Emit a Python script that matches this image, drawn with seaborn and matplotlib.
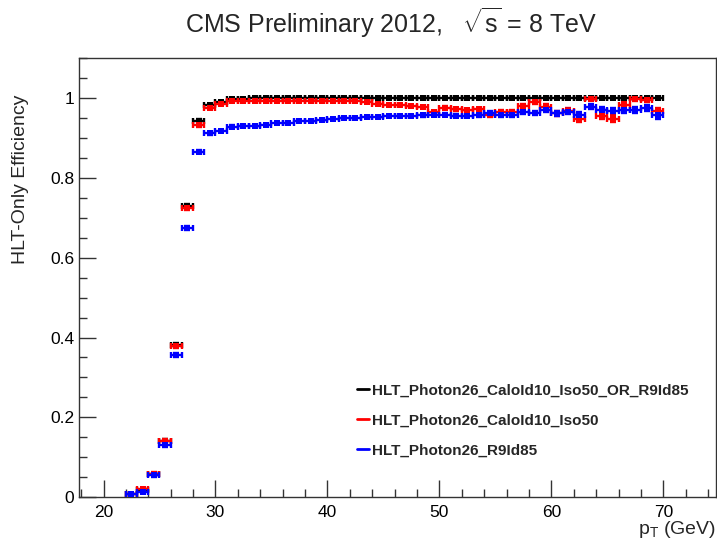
import numpy as np
import pandas as pd
import seaborn as sns
import matplotlib.pyplot as plt
from matplotlib.lines import Line2D
from matplotlib.ticker import MultipleLocator

# bin centres (1 GeV bins from 22 to 70 GeV)
pt = [22.5, 23.5, 24.5, 25.5, 26.5, 27.5, 28.5, 29.5, 30.5, 31.5,
      32.5, 33.5, 34.5, 35.5, 36.5, 37.5, 38.5, 39.5, 40.5, 41.5,
      42.5, 43.5, 44.5, 45.5, 46.5, 47.5, 48.5, 49.5, 50.5, 51.5,
      52.5, 53.5, 54.5, 55.5, 56.5, 57.5, 58.5, 59.5, 60.5, 61.5,
      62.5, 63.5, 64.5, 65.5, 66.5, 67.5, 68.5, 69.5]

eff_or = [0.008, 0.018, 0.058, 0.141, 0.382, 0.731, 0.944, 0.983, 0.990, 0.998,
          0.999, 1.000, 1.000, 1.000, 1.000, 1.000, 1.000, 1.000, 1.000, 1.000,
          1.000, 1.000, 1.000, 1.000, 1.000, 1.000, 1.000, 1.000, 1.000, 1.000,
          1.000, 1.000, 1.000, 1.000, 1.000, 1.000, 1.000, 1.000, 1.000, 1.000,
          1.000, 1.000, 1.000, 1.000, 1.000, 1.000, 1.000, 1.000]
err_or = [0.002, 0.002, 0.003, 0.004, 0.004, 0.004, 0.003, 0.002, 0.002, 0.001,
          0.001, 0.001, 0.001, 0.001, 0.001, 0.001, 0.001, 0.001, 0.001, 0.001,
          0.001, 0.001, 0.001, 0.001, 0.001, 0.001, 0.001, 0.001, 0.001, 0.001,
          0.001, 0.001, 0.001, 0.001, 0.001, 0.001, 0.001, 0.001, 0.001, 0.001,
          0.001, 0.001, 0.001, 0.001, 0.001, 0.001, 0.001, 0.001]

eff_iso = [0.007, 0.019, 0.058, 0.140, 0.379, 0.725, 0.933, 0.975, 0.986, 0.992,
           0.992, 0.992, 0.992, 0.992, 0.992, 0.992, 0.992, 0.992, 0.992, 0.992,
           0.992, 0.991, 0.985, 0.983, 0.983, 0.980, 0.978, 0.965, 0.976, 0.972,
           0.970, 0.972, 0.959, 0.966, 0.965, 0.980, 0.990, 0.979, 0.962, 0.969,
           0.947, 0.999, 0.955, 0.949, 0.984, 0.998, 0.996, 0.967]
err_iso = [0.002, 0.003, 0.004, 0.005, 0.005, 0.005, 0.004, 0.003, 0.003, 0.002,
           0.002, 0.002, 0.002, 0.002, 0.002, 0.002, 0.002, 0.002, 0.002, 0.002,
           0.002, 0.002, 0.003, 0.003, 0.003, 0.003, 0.003, 0.004, 0.004, 0.004,
           0.004, 0.004, 0.005, 0.005, 0.005, 0.005, 0.005, 0.006, 0.006, 0.006,
           0.007, 0.004, 0.007, 0.008, 0.007, 0.005, 0.005, 0.009]

eff_r9 = [0.008, 0.013, 0.055, 0.131, 0.357, 0.675, 0.866, 0.912, 0.918, 0.929,
          0.930, 0.930, 0.933, 0.939, 0.939, 0.943, 0.944, 0.945, 0.948, 0.951,
          0.951, 0.953, 0.953, 0.955, 0.955, 0.956, 0.957, 0.958, 0.959, 0.956,
          0.956, 0.957, 0.963, 0.958, 0.959, 0.966, 0.962, 0.971, 0.962, 0.966,
          0.958, 0.979, 0.971, 0.969, 0.970, 0.970, 0.975, 0.957]
err_r9 = [0.002, 0.003, 0.004, 0.005, 0.005, 0.005, 0.004, 0.003, 0.003, 0.003,
          0.002, 0.002, 0.002, 0.002, 0.002, 0.002, 0.002, 0.002, 0.002, 0.002,
          0.002, 0.002, 0.002, 0.003, 0.003, 0.003, 0.003, 0.003, 0.004, 0.004,
          0.004, 0.004, 0.004, 0.005, 0.005, 0.005, 0.005, 0.006, 0.006, 0.006,
          0.007, 0.006, 0.007, 0.007, 0.007, 0.007, 0.007, 0.008]

labels = ["HLT_Photon26_CaloId10_Iso50_OR_R9Id85",
          "HLT_Photon26_CaloId10_Iso50",
          "HLT_Photon26_R9Id85"]
colors = ["#000000", "#ff0000", "#0000ff"]

frames = []
for lab, eff, err in zip(labels, [eff_or, eff_iso, eff_r9], [err_or, err_iso, err_r9]):
    frames.append(pd.DataFrame({"pt": pt, "eff": eff, "err": err, "trigger": lab}))
df = pd.concat(frames, ignore_index=True)

sns.set_theme(style="ticks")
plt.rcParams['font.family'] = ['Liberation Sans', 'DejaVu Sans']
plt.rcParams['mathtext.fontset'] = 'custom'
plt.rcParams['mathtext.rm'] = 'Liberation Sans'
plt.rcParams['mathtext.it'] = 'Liberation Sans:italic'

fig = plt.figure(figsize=(7.17, 5.46), dpi=100)
ax = fig.add_axes([0.110, 0.0897, 0.8886, 0.8033])

for lab, col in zip(labels, colors):
    d = df[df.trigger == lab]
    ax.errorbar(d.pt, d.eff, xerr=0.5, yerr=d.err, fmt="none", ecolor=col,
                elinewidth=1.7, capsize=2.4, capthick=1.7)
    sns.scatterplot(data=d, x="pt", y="eff", color=col, marker="s", s=14,
                    edgecolor=col, linewidth=0, ax=ax, legend=False, zorder=3)

ax.set_xlim(17.8, 74.7)
ax.set_ylim(0, 1.1)
ax.xaxis.set_major_locator(MultipleLocator(10))
ax.xaxis.set_minor_locator(MultipleLocator(2))
ax.yaxis.set_major_locator(MultipleLocator(0.2))
ax.yaxis.set_minor_locator(MultipleLocator(0.05))
ax.set_yticks([0, 0.2, 0.4, 0.6, 0.8, 1.0])
ax.set_yticklabels(["0", "0.2", "0.4", "0.6", "0.8", "1"])
ax.tick_params(which="major", direction="in", length=12, width=1, labelsize=12.5,
               top=False, right=False, colors="#333333", labelcolor="black")
ax.tick_params(which="minor", direction="in", length=6, width=1,
               top=False, right=False, colors="#333333")
ax.tick_params(axis="x", pad=6)
for sp in ax.spines.values():
    sp.set_color("#333333")
    sp.set_linewidth(1)

ax.set_xlabel(r"p$_{\mathrm{T}}$ (GeV)", fontsize=14, ha="right")
ax.xaxis.set_label_coords(1.0, -0.05)
ax.set_ylabel("HLT-Only Efficiency", fontsize=14, ha="right")
ax.yaxis.set_label_coords(-0.078, 0.917)

fig.text(0.545, 0.958, r"CMS Preliminary 2012,   $\sqrt{\mathrm{s}}$ = 8 TeV",
         ha="center", va="center", fontsize=18)

handles = [Line2D([0], [0], color=c, lw=2) for c in colors]
ax.legend(handles, labels, loc="upper left", bbox_to_anchor=(0.415, 0.29),
          frameon=False, handlelength=0.8, handletextpad=0.2, labelspacing=1.05,
          prop={"weight": "bold", "size": 11})

sns.despine(ax=ax, top=False, right=False)
fig.savefig("out.png", dpi=100)
